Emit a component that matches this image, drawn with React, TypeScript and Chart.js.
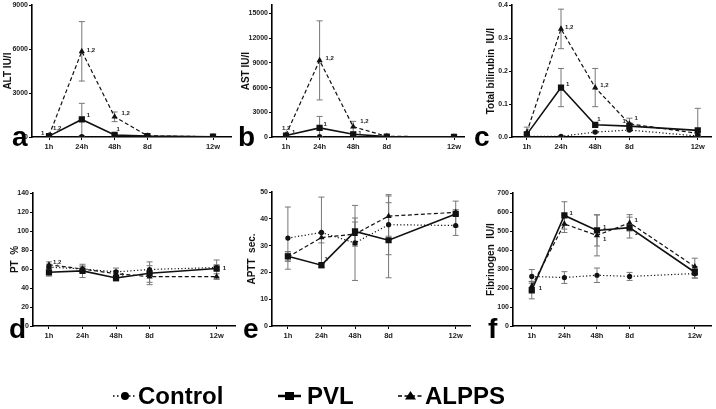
import React, { useEffect, useRef } from "react";
import { Chart, registerables } from "chart.js";
Chart.register(...registerables);

// ---------- data ----------
const timeLabels = ["1h", "24h", "48h", "8d", "12w"];
const timePos = [1, 2, 3, 4, 6];
const seriesNames = ["Control", "PVL", "ALPPS"];

// a: ALT IU/l
const altControl = [20, 30, 30, 30, 20];
const altControlErr = [10, 10, 10, 10, 10];
const altPVL = [60, 1200, 140, 60, 20];
const altPVLErr = [40, 1100, 60, 30, 10];
const altALPPS = [100, 5850, 1380, 80, 20];
const altALPPSErr = [60, 2030, 330, 40, 10];

// b: AST IU/l
const astControl = [40, 40, 40, 40, 30];
const astControlErr = [10, 10, 10, 10, 10];
const astPVL = [180, 1100, 330, 60, 30];
const astPVLErr = [100, 1400, 200, 30, 10];
const astALPPS = [260, 9300, 1250, 80, 30];
const astALPPSErr = [150, 4800, 650, 40, 10];

// c: Total bilirubin IU/l
const bilControl = [0.002, 0.002, 0.015, 0.021, 0.003];
const bilControlErr = [0.001, 0.001, 0.003, 0.004, 0.002];
const bilPVL = [0.008, 0.15, 0.037, 0.033, 0.02];
const bilPVLErr = [0.006, 0.058, 0.004, 0.01, 0.067];
const bilALPPS = [0.014, 0.328, 0.15, 0.04, 0.011];
const bilALPPSErr = [0.016, 0.06, 0.058, 0.017, 0.005];

// d: PT %
const ptControl = [62, 60, 57, 59.5, 61.5];
const ptControlErr = [3, 3, 4, 4, 3];
const ptPVL = [56.5, 58, 50.5, 55.5, 60.5];
const ptPVLErr = [4, 7, 3, 12, 9];
const ptALPPS = [64.5, 60, 55, 52, 52];
const ptALPPSErr = [3, 3, 3, 6, 3];

// e: APTT sec.
const apttControl = [32.8, 34.9, 31, 37.8, 37.5];
const apttControlErr = [11.6, 13.2, 14, 11.2, 3.7];
const apttPVL = [26, 22.7, 35.3, 32, 41.8];
const apttPVLErr = [1.8, 0.8, 5, 14, 4.8];
const apttALPPS = [25.7, 33, 34.3, 41, 42.4];
const apttALPPSErr = [1.5, 2, 4.5, 7.5, 1];

// f: Fibrinogen IU/l
const fibControl = [261, 255, 267, 261, 276];
const fibControlErr = [36, 31, 38, 21, 24];
const fibPVL = [188, 582, 503, 518, 283];
const fibPVLErr = [45, 72, 82, 55, 30];
const fibALPPS = [210, 537, 477, 543, 312];
const fibALPPSErr = [25, 45, 108, 43, 45];

// significance marks: series index (0 Control, 1 PVL, 2 ALPPS), time index, text
const altMarks = [
  { s: 1, i: 0, t: "1", dx: -8, dy: -3 },
  { s: 2, i: 0, t: "1,2", dx: 4, dy: -7 },
  { s: 2, i: 1, t: "1,2", dx: 5, dy: -1 },
  { s: 1, i: 1, t: "1", dx: 5, dy: -4 },
  { s: 2, i: 2, t: "1,2", dx: 7, dy: -3 },
  { s: 1, i: 2, t: "1", dx: 2, dy: -6 },
];
const astMarks = [
  { s: 2, i: 0, t: "1,2", dx: -4, dy: -7 },
  { s: 1, i: 0, t: "1", dx: 6, dy: -3 },
  { s: 1, i: 1, t: "1", dx: 4, dy: -4 },
  { s: 2, i: 1, t: "1,2", dx: 6, dy: -2 },
  { s: 2, i: 2, t: "1,2", dx: 7, dy: -5 },
  { s: 1, i: 2, t: "1", dx: 5, dy: -1 },
];
const bilMarks = [
  { s: 2, i: 1, t: "1,2", dx: 4, dy: -2 },
  { s: 1, i: 1, t: "1", dx: 5, dy: -3 },
  { s: 2, i: 2, t: "1,2", dx: 5, dy: -2 },
  { s: 1, i: 2, t: "1", dx: 2, dy: -5 },
  { s: 1, i: 3, t: "1", dx: -7, dy: -5 },
  { s: 2, i: 3, t: "1", dx: 5, dy: -5 },
];
const ptMarks = [
  { s: 2, i: 0, t: "1,2", dx: 4, dy: -2 },
  { s: 2, i: 2, t: "1", dx: 5, dy: 2 },
  { s: 1, i: 4, t: "1", dx: 6, dy: 0 },
];
const apttMarks = [{ s: 1, i: 1, t: "1", dx: 3, dy: -6 }];
const fibMarks = [
  { s: 1, i: 0, t: "1", dx: 7, dy: -2 },
  { s: 1, i: 1, t: "1", dx: 5, dy: -2 },
  { s: 1, i: 2, t: "1", dx: 6, dy: -3 },
  { s: 2, i: 2, t: "1", dx: 6, dy: 4 },
  { s: 2, i: 3, t: "1", dx: 5, dy: -2 },
  { s: 1, i: 3, t: "1", dx: 5, dy: 6 },
];

// ---------- layout ----------
type Mark = { s: number; i: number; t: string; dx: number; dy: number };
interface PanelCfg {
  id: string;
  title: string;
  yMax: number;
  step: number;
  dec: number;
  series: number[][];
  errs: number[][];
  marks: Mark[];
  cx: number; cy: number; cw: number; ch: number;
  L: number; T: number; R: number; B: number;
  p1: number; p5: number;
  titlePad: number;
}

const panels: PanelCfg[] = [
  {
    id: "a", title: "ALT IU/l", yMax: 9000, step: 3000, dec: 0,
    series: [altControl, altPVL, altALPPS], errs: [altControlErr, altPVLErr, altALPPSErr], marks: altMarks,
    cx: 0, cy: 0, cw: 240, ch: 165, L: 32, T: 5, R: 231, B: 137, p1: 49, p5: 213, titlePad: 2,
  },
  {
    id: "b", title: "AST IU/l", yMax: 16000, step: 3000, dec: 0,
    series: [astControl, astPVL, astALPPS], errs: [astControlErr, astPVLErr, astALPPSErr], marks: astMarks,
    cx: 240, cy: 0, cw: 232, ch: 165, L: 272, T: 4, R: 464, B: 137, p1: 286, p5: 454, titlePad: 0,
  },
  {
    id: "c", title: "Total bilirubin  IU/l", yMax: 0.4, step: 0.1, dec: 1,
    series: [bilControl, bilPVL, bilALPPS], errs: [bilControlErr, bilPVLErr, bilALPPSErr], marks: bilMarks,
    cx: 478, cy: 0, cw: 238, ch: 165, L: 512, T: 4, R: 714, B: 137, p1: 527, p5: 700, titlePad: 7,
  },
  {
    id: "d", title: "PT  %", yMax: 140, step: 20, dec: 0,
    series: [ptControl, ptPVL, ptALPPS], errs: [ptControlErr, ptPVLErr, ptALPPSErr], marks: ptMarks,
    cx: 0, cy: 180, cw: 240, ch: 170, L: 33, T: 193, R: 236, B: 326, p1: 49, p5: 217, titlePad: 9,
  },
  {
    id: "e", title: "APTT  sec.", yMax: 50, step: 10, dec: 0,
    series: [apttControl, apttPVL, apttALPPS], errs: [apttControlErr, apttPVLErr, apttALPPSErr], marks: apttMarks,
    cx: 240, cy: 180, cw: 235, ch: 170, L: 272, T: 192, R: 472, B: 326, p1: 288, p5: 457, titlePad: 6,
  },
  {
    id: "f", title: "Fibrinogen  IU/l", yMax: 700, step: 100, dec: 0,
    series: [fibControl, fibPVL, fibALPPS], errs: [fibControlErr, fibPVLErr, fibALPPSErr], marks: fibMarks,
    cx: 478, cy: 180, cw: 238, ch: 170, L: 513, T: 193, R: 714, B: 326, p1: 532, p5: 697, titlePad: 7,
  },
];

const FONT = '"Liberation Sans", Arial, Helvetica, sans-serif';
const INK = "#111";

const seriesStyles = [
  { borderDash: [1.2, 2.2], borderWidth: 1.2, pointStyle: "circle", pointRadius: 2.6 },
  { borderDash: [], borderWidth: 1.6, pointStyle: "rect", pointRadius: 4.4 },
  { borderDash: [4, 2.5], borderWidth: 1.2, pointStyle: "triangle", pointRadius: 3.6 },
];

function buildConfig(cfg: PanelCfg): any {
  const u = (cfg.p5 - cfg.p1) / 5;
  const xMin = 1 - (cfg.p1 - cfg.L) / u;
  const xMax = 6 + (cfg.R - cfg.p5) / u;
  const HX = 18;

  const errPlugin = {
    id: "errbars_" + cfg.id,
    beforeDatasetsDraw(chart: any) {
      const ctx = chart.ctx;
      const ys = chart.scales.y;
      const xs = chart.scales.x;
      ctx.save();
      ctx.strokeStyle = "#777";
      ctx.lineWidth = 1;
      cfg.series.forEach((vals, k) => {
        vals.forEach((v, i) => {
          const e = cfg.errs[k][i];
          const x = xs.getPixelForValue(timePos[i]);
          const yTop = ys.getPixelForValue(v + e);
          const yBot = ys.getPixelForValue(Math.max(v - e, 0));
          ctx.beginPath();
          ctx.moveTo(x, yTop);
          ctx.lineTo(x, yBot);
          ctx.moveTo(x - 3, yTop);
          ctx.lineTo(x + 3, yTop);
          ctx.moveTo(x - 3, yBot);
          ctx.lineTo(x + 3, yBot);
          ctx.stroke();
        });
      });
      ctx.restore();
    },
  };

  const markPlugin = {
    id: "marks_" + cfg.id,
    afterDatasetsDraw(chart: any) {
      const ctx = chart.ctx;
      ctx.save();
      ctx.fillStyle = "#222";
      ctx.font = `bold 6px ${FONT}`;
      ctx.textAlign = "left";
      ctx.textBaseline = "middle";
      cfg.marks.forEach((m) => {
        const pt = chart.getDatasetMeta(m.s).data[m.i];
        ctx.fillText(m.t, pt.x + m.dx, pt.y + m.dy);
      });
      ctx.restore();
    },
  };

  const yTicks: number[] = [];
  for (let k = 0; k * cfg.step <= cfg.yMax + 1e-9; k++) yTicks.push(+(k * cfg.step).toFixed(6));

  return {
    type: "line",
    data: {
      datasets: cfg.series.map((vals, k) => ({
        label: seriesNames[k],
        data: vals.map((v, i) => ({ x: timePos[i], y: v })),
        borderColor: INK,
        backgroundColor: INK,
        pointBackgroundColor: INK,
        pointBorderColor: INK,
        pointBorderWidth: 0,
        tension: 0,
        fill: false,
        borderCapStyle: "butt",
        ...seriesStyles[k],
      })),
    },
    options: {
      responsive: false,
      animation: false,
      devicePixelRatio: 1,
      layout: {
        padding: {
          left: 0,
          top: cfg.T - cfg.cy,
          right: cfg.cx + cfg.cw - cfg.R,
          bottom: cfg.cy + cfg.ch - cfg.B - HX,
        },
      },
      plugins: { legend: { display: false }, tooltip: { enabled: false } },
      scales: {
        x: {
          type: "linear",
          min: xMin,
          max: xMax,
          afterBuildTicks: (s: any) => {
            s.ticks = timePos.map((v) => ({ value: v }));
          },
          afterFit: (s: any) => {
            s.height = HX;
          },
          ticks: {
            autoSkip: false,
            maxRotation: 0,
            padding: 2,
            color: "#222",
            font: { family: FONT, size: 7.5, weight: "bold" },
            callback: (v: number) => {
              const idx = timePos.indexOf(v);
              return idx >= 0 ? timeLabels[idx] : "";
            },
          },
          grid: { drawOnChartArea: false, drawTicks: true, tickLength: 3, color: "#000", tickColor: "#000", lineWidth: 1 },
          border: { color: "#000", width: 1.6 },
        },
        y: {
          min: 0,
          max: cfg.yMax,
          afterBuildTicks: (s: any) => {
            s.ticks = yTicks.map((v) => ({ value: v }));
          },
          afterFit: (s: any) => {
            s.width = cfg.L - cfg.cx;
          },
          ticks: {
            padding: 1,
            color: "#222",
            font: { family: FONT, size: 7, weight: "bold" },
            callback: (v: number) => Number(v).toFixed(cfg.dec),
          },
          title: {
            display: true,
            text: cfg.title,
            color: "#111",
            font: { family: FONT, size: 10, weight: "bold" },
            padding: { top: cfg.titlePad, bottom: 0 },
          },
          grid: { drawOnChartArea: false, drawTicks: true, tickLength: 3, color: "#000", tickColor: "#000", lineWidth: 1 },
          border: { color: "#000", width: 1.6 },
        },
      },
    },
    plugins: [errPlugin, markPlugin],
  };
}

function Panel({ cfg }: { cfg: PanelCfg }) {
  const ref = useRef<HTMLCanvasElement>(null);
  useEffect(() => {
    const chart = new Chart(ref.current as HTMLCanvasElement, buildConfig(cfg));
    return () => chart.destroy();
  }, [cfg]);
  return (
    <canvas
      ref={ref}
      width={cfg.cw}
      height={cfg.ch}
      style={{ position: "absolute", left: cfg.cx, top: cfg.cy, width: cfg.cw, height: cfg.ch }}
    />
  );
}

const letters = [
  { t: "a", x: 12, base: 147 },
  { t: "b", x: 238, base: 147 },
  { t: "c", x: 474, base: 147 },
  { t: "d", x: 9, base: 339 },
  { t: "e", x: 243, base: 339 },
  { t: "f", x: 488, base: 339 },
];

const LETTER_SIZE = 28;
const LEGEND_SIZE = 24;
const LEGEND_BASE = 404;

export default function App() {
  const legendMid = LEGEND_BASE - 8;
  return (
    <div
      style={{
        position: "absolute",
        left: 0,
        top: 0,
        width: 716,
        height: 409,
        background: "#fff",
        overflow: "hidden",
        fontFamily: FONT,
      }}
    >
      {panels.map((p) => (
        <Panel key={p.id} cfg={p} />
      ))}
      {letters.map((l) => (
        <div
          key={l.t}
          style={{
            position: "absolute",
            left: l.x,
            top: l.base - 0.8465 * LETTER_SIZE,
            fontSize: LETTER_SIZE,
            lineHeight: `${LETTER_SIZE}px`,
            fontWeight: "bold",
            color: "#000",
          }}
        >
          {l.t}
        </div>
      ))}
      <svg style={{ position: "absolute", left: 0, top: 0 }} width={716} height={409}>
        <line x1={113} x2={137} y1={legendMid} y2={legendMid} stroke="#000" strokeWidth={1.5} strokeDasharray="1.5 2.5" />
        <circle cx={125} cy={legendMid} r={4} fill="#000" />
        <line x1={278} x2={301} y1={legendMid} y2={legendMid} stroke="#000" strokeWidth={2.5} />
        <rect x={285} y={legendMid - 4} width={9} height={8} fill="#000" />
        <line x1={398} x2={423} y1={legendMid} y2={legendMid} stroke="#000" strokeWidth={1.5} strokeDasharray="4 2.5" />
        <polygon points={`${410.5},${legendMid - 5} ${416},${legendMid + 3.5} ${405},${legendMid + 3.5}`} fill="#000" />
      </svg>
      {[
        { t: "Control", x: 138 },
        { t: "PVL", x: 307 },
        { t: "ALPPS", x: 425 },
      ].map((l) => (
        <div
          key={l.t}
          style={{
            position: "absolute",
            left: l.x,
            top: LEGEND_BASE - 0.8465 * LEGEND_SIZE,
            fontSize: LEGEND_SIZE,
            lineHeight: `${LEGEND_SIZE}px`,
            fontWeight: "bold",
            color: "#000",
            whiteSpace: "nowrap",
          }}
        >
          {l.t}
        </div>
      ))}
    </div>
  );
}
